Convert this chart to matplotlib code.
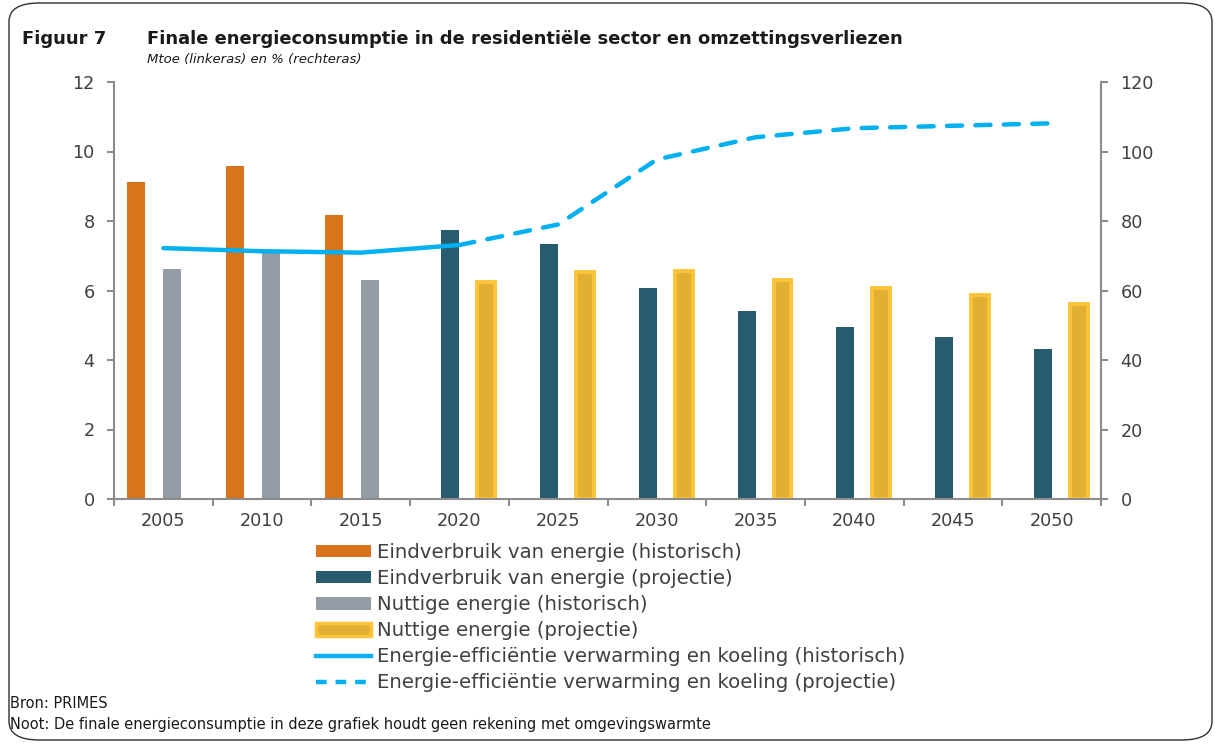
import numpy as np
import matplotlib
matplotlib.use("Agg")
import matplotlib.pyplot as plt
from matplotlib.patches import FancyBboxPatch, Patch
from matplotlib.lines import Line2D

plt.rcParams['font.family'] = ['DejaVu Sans']

years = ["2005", "2010", "2015", "2020", "2025", "2030", "2035", "2040", "2045", "2050"]
eind_hist = [9.12, 9.58, 8.17, np.nan, np.nan, np.nan, np.nan, np.nan, np.nan, np.nan]
eind_proj = [np.nan, np.nan, np.nan, 7.74, 7.34, 6.07, 5.41, 4.95, 4.65, 4.31]
nutt_hist = [6.63, 7.10, 6.29, np.nan, np.nan, np.nan, np.nan, np.nan, np.nan, np.nan]
nutt_proj = [np.nan, np.nan, np.nan, 6.24, 6.52, 6.55, 6.30, 6.07, 5.86, 5.60]
eff_hist = [72.2, 71.3, 70.9, 73.1, np.nan, np.nan, np.nan, np.nan, np.nan, np.nan]
eff_proj = [np.nan, np.nan, np.nan, 73.1, 79.0, 97.7, 104.1, 106.7, 107.4, 108.1]

labels = ["Eindverbruik van energie (historisch)",
          "Eindverbruik van energie (projectie)",
          "Nuttige energie (historisch)",
          "Nuttige energie (projectie)",
          "Energie-efficiëntie verwarming en koeling (historisch)",
          "Energie-efficiëntie verwarming en koeling (projectie)"]

c_orange = "#D9731C"
c_dark = "#275B6E"
c_gray = "#949CA6"
c_yel_fill = "#E1B033"
c_yel_edge = "#FDC43A"
c_line = "#00B0F0"
c_axis = "#8C8C8C"
c_text = "#404040"

W, H = 1215, 745
fig = plt.figure(figsize=(W / 100, H / 100), dpi=100)

# rounded frame
frame = FancyBboxPatch((9 / W, 5 / H), 1203 / W, 737 / H,
                       boxstyle="round,pad=0,rounding_size=0.025",
                       transform=fig.transFigure, fill=False,
                       edgecolor="#303030", linewidth=1.0)
fig.patches.append(frame)

ax = fig.add_axes([114 / W, 1 - 499 / H, (1101 - 114) / W, (499 - 82) / H])
x = np.arange(len(years))
w = 0.182
ax.bar(x - 1.5 * w, eind_hist, w, color=c_orange, zorder=2)
ax.bar(x - 0.5 * w, eind_proj, w, color=c_dark, zorder=2)
ax.bar(x + 0.5 * w, nutt_hist, w, color=c_gray, zorder=2)
ax.bar(x + 1.5 * w, nutt_proj, w, color=c_yel_fill, edgecolor=c_yel_edge,
       linewidth=2.8, zorder=2)

ax.set_xlim(-0.5, len(years) - 0.5)
ax.set_ylim(0, 12)
ax.set_yticks(np.arange(0, 13, 2))
ax.set_xticks(x)
ax.set_xticklabels(years)
ax.set_xticks(np.arange(-0.5, len(years), 1.0), minor=True)
ax.tick_params(axis='x', which='major', length=0, pad=9, labelsize=12.7, colors=c_text)
ax.tick_params(axis='x', which='minor', length=5, width=1.5, color=c_axis, direction='out')
ax.tick_params(axis='y', length=5, width=1.5, color=c_axis, labelcolor=c_text,
               labelsize=12.7, pad=9, direction='out')
for s in ['top', 'right']:
    ax.spines[s].set_visible(False)
for s in ['left', 'bottom']:
    ax.spines[s].set_color(c_axis)
    ax.spines[s].set_linewidth(1.5)

ax2 = ax.twinx()
ax2.set_ylim(0, 120)
ax2.set_yticks(np.arange(0, 121, 20))
ax2.tick_params(axis='y', length=5, width=1.5, color=c_axis, labelcolor=c_text,
                labelsize=12.7, pad=9, direction='out')
for s in ['top', 'left', 'bottom']:
    ax2.spines[s].set_visible(False)
ax2.spines['right'].set_color(c_axis)
ax2.spines['right'].set_linewidth(1.5)
ax2.plot(x, eff_hist, color=c_line, lw=3.2, solid_capstyle='round', zorder=3)
ax2.plot(x, eff_proj, color=c_line, lw=3.2, dashes=(3.4, 3.0),
         dash_capstyle='round', zorder=3)

# legend
handles = [Patch(facecolor=c_orange, edgecolor='none'),
           Patch(facecolor=c_dark, edgecolor='none'),
           Patch(facecolor=c_gray, edgecolor='none'),
           Patch(facecolor=c_yel_fill, edgecolor=c_yel_edge, linewidth=2.5),
           Line2D([], [], color=c_line, lw=3.2),
           Line2D([], [], color=c_line, lw=3.2, dashes=(2.4, 2.0))]
leg = fig.legend(handles, labels, loc='upper left',
                 bbox_to_anchor=(316 / W, 1 - 543 / H), frameon=False,
                 fontsize=14.2, handlelength=2.8, handleheight=0.6,
                 handletextpad=0.3, labelspacing=0.36, borderpad=0,
                 borderaxespad=0)
for t in leg.get_texts():
    t.set_color(c_text)

# titles
fig.text(22 / W, 1 - 39 / H, "Figuur 7", fontsize=12.9, fontweight='bold',
         color="#1a1a1a", va='center', ha='left')
fig.text(147 / W, 1 - 39 / H,
         "Finale energieconsumptie in de residentiële sector en omzettingsverliezen",
         fontsize=12.85, fontweight='bold', color="#1a1a1a", va='center', ha='left')
fig.text(147 / W, 1 - 60 / H, "Mtoe (linkeras) en % (rechteras)", fontsize=9.5,
         style='italic', color="#1a1a1a", va='center', ha='left')

fig.text(10 / W, 1 - 704 / H, "Bron: PRIMES", fontsize=10.5, color="#1a1a1a",
         va='center', ha='left')
fig.text(10 / W, 1 - 725 / H,
         "Noot: De finale energieconsumptie in deze grafiek houdt geen rekening met omgevingswarmte",
         fontsize=10.5, color="#1a1a1a", va='center', ha='left')

fig.savefig("out.png", dpi=100)
